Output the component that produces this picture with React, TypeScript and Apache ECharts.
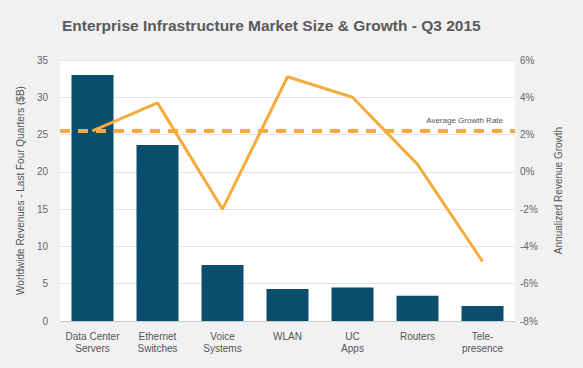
import React, { useEffect, useRef } from "react";
import * as echarts from "echarts";

const categories = [
  "Data Center\nServers",
  "Ethernet\nSwitches",
  "Voice\nSystems",
  "WLAN",
  "UC\nApps",
  "Routers",
  "Tele-\npresence",
];
const revenues = [33.0, 23.6, 7.5, 4.3, 4.5, 3.4, 2.0];
const growth = [2.2, 3.7, -2.0, 5.1, 4.0, 0.4, -4.8];
const averageGrowth = 2.2;

export default function App() {
  const ref = useRef<HTMLDivElement>(null);
  useEffect(() => {
    if (!ref.current) return;
    const chart = echarts.init(ref.current, null, { renderer: "svg" });
    const font = "'Liberation Sans', Arial, sans-serif";
    chart.setOption({
      animation: false,
      backgroundColor: "#f1f1f1",
      textStyle: { fontFamily: font },
      title: {
        text: "Enterprise Infrastructure Market Size & Growth - Q3 2015",
        left: 57,
        top: 12,
        textStyle: {
          fontFamily: font,
          fontSize: 15.5,
          fontWeight: "bold",
          color: "#5a5a5a",
        },
      },
      grid: {
        left: 60,
        right: 68,
        top: 60,
        bottom: 47,
        show: true,
        backgroundColor: "#ffffff",
        borderWidth: 0,
      },
      xAxis: {
        type: "category",
        data: categories,
        axisLine: { show: true, lineStyle: { color: "#cccccc" } },
        axisTick: { show: false },
        axisLabel: {
          color: "#555",
          fontSize: 10,
          lineHeight: 12,
          margin: 9,
          interval: 0,
        },
      },
      yAxis: [
        {
          type: "value",
          min: 0,
          max: 35,
          interval: 5,
          name: "Worldwide Revenues - Last Four Quarters ($B)",
          nameLocation: "middle",
          nameGap: 34,
          nameTextStyle: { color: "#555", fontSize: 10 },
          axisLine: { show: false },
          axisTick: { show: false },
          axisLabel: { color: "#666", fontSize: 10, margin: 12 },
          splitLine: { lineStyle: { color: "#e4e4e4" } },
        },
        {
          type: "value",
          min: -8,
          max: 6,
          interval: 2,
          name: "Annualized Revenue Growth",
          nameLocation: "middle",
          nameGap: 38,
          nameRotate: 90,
          nameTextStyle: { color: "#555", fontSize: 10 },
          axisLine: { show: false },
          axisTick: { show: false },
          axisLabel: { color: "#666", fontSize: 10, margin: 5, formatter: "{value}%" },
          splitLine: { show: false },
        },
      ],
      series: [
        {
          type: "bar",
          data: revenues,
          yAxisIndex: 0,
          barWidth: 42,
          itemStyle: { color: "#0b4d6c" },
        },
        {
          type: "line",
          data: growth,
          yAxisIndex: 1,
          symbol: "none",
          lineStyle: { color: "#f5ac3c", width: 3 },
          markLine: {
            silent: true,
            symbol: "none",
            data: [{ yAxis: averageGrowth }],
            lineStyle: { color: "#f5ac3c", width: 4, type: [10, 8] },
            label: {
              show: true,
              position: "insideEndTop",
              formatter: "Average Growth Rate",
              color: "#555",
              fontSize: 8,
              distance: [12, 6],
            },
          },
        },
      ],
    });
    return () => chart.dispose();
  }, []);
  return (
    <div
      ref={ref}
      style={{ position: "fixed", left: 0, top: 0, width: 583, height: 368 }}
    />
  );
}
